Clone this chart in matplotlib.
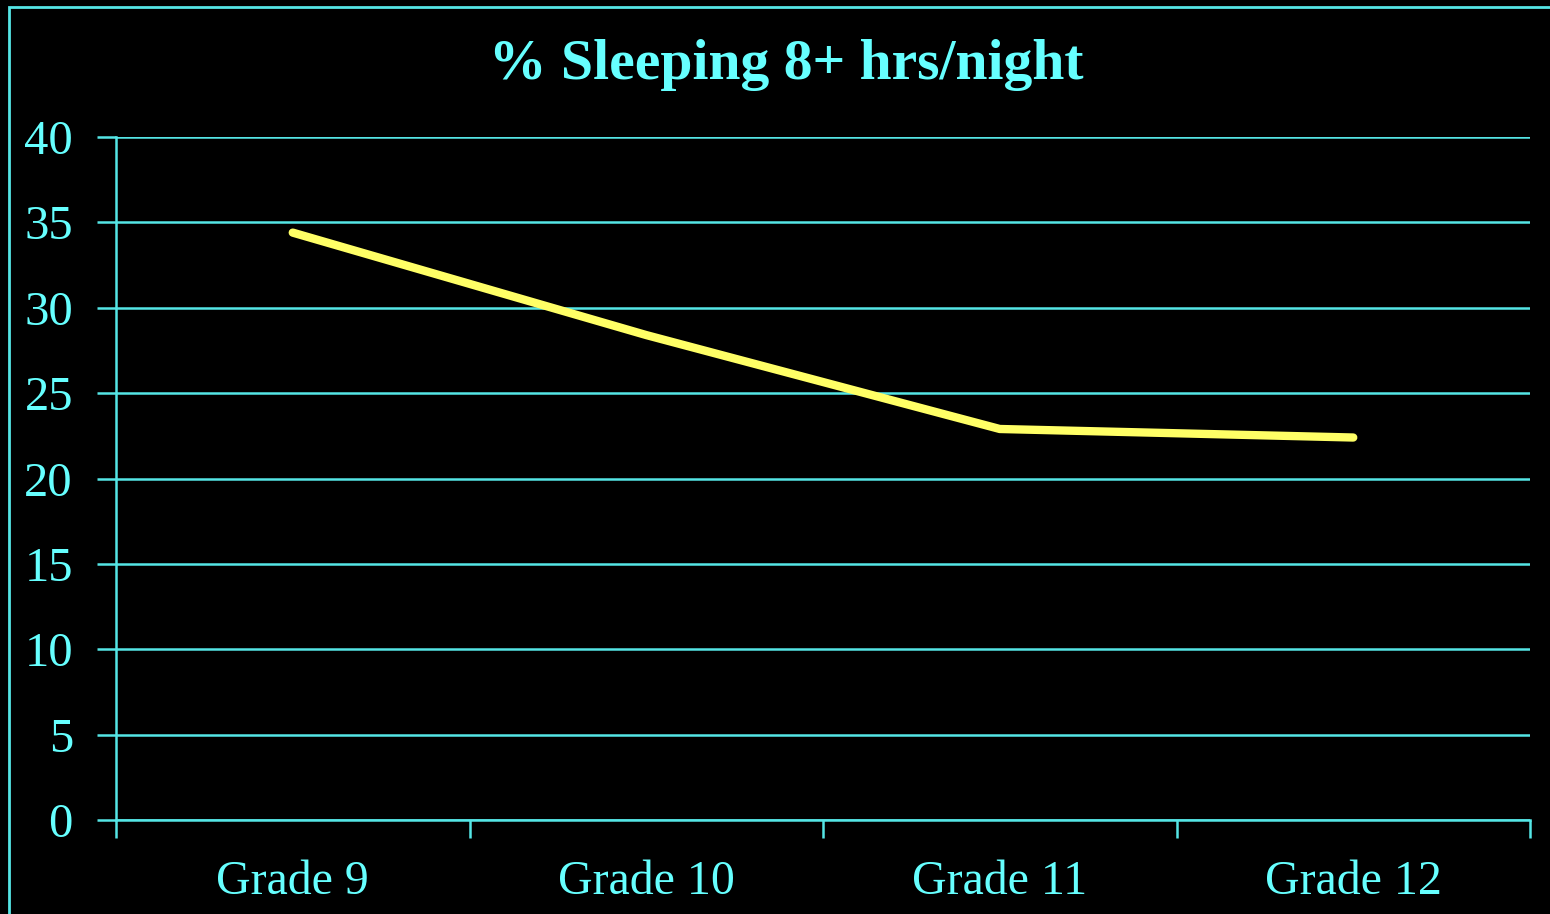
import matplotlib
matplotlib.use("Agg")
import matplotlib.pyplot as plt
from matplotlib.patches import Rectangle
import numpy as np

# survey values
grades = ["Grade 9", "Grade 10", "Grade 11", "Grade 12"]
pct_sleep = [34.4, 28.4, 22.9, 22.4]
yticks = [0, 5, 10, 15, 20, 25, 30, 35, 40]

cyan = "#66FFFF"
line_cyan = "#55E6E6"
yellow = "#FFFF66"

plt.rcParams["font.family"] = ["Liberation Serif", "DejaVu Serif"]

fig = plt.figure(figsize=(15.5, 9.14), dpi=100, facecolor="black")
ax = fig.add_axes([116/1550, 1 - 820/914, (1530-116)/1550, (820-137)/914])
ax.set_facecolor("black")

x = np.arange(len(grades))
ax.plot(x, pct_sleep, color=yellow, lw=6, solid_capstyle="round", zorder=3)

ax.set_xlim(-0.5, len(grades) - 0.5)
ax.set_ylim(0, 40)
ax.set_yticks(yticks)
ax.set_yticklabels([str(v) for v in yticks])
ax.yaxis.grid(True, color=line_cyan, lw=1.8)
ax.set_axisbelow(True)

# category labels at centres, tick marks at the boundaries
ax.set_xticks(x)
ax.set_xticklabels(grades)
ax.set_xticks(np.arange(-0.5, len(grades)), minor=True)
ax.tick_params(axis="x", which="major", length=0, pad=29, labelsize=34.5, labelcolor=cyan)
ax.tick_params(axis="x", which="minor", length=13, width=1.8, color=line_cyan, direction="out")
ax.tick_params(axis="y", length=14, width=1.8, color=line_cyan, labelsize=35,
               labelcolor=cyan, pad=17)

for s in ["top", "right"]:
    ax.spines[s].set_visible(False)
ax.spines["left"].set_color(line_cyan)
ax.spines["left"].set_linewidth(1.8)
ax.spines["bottom"].set_color(line_cyan)
ax.spines["bottom"].set_linewidth(1.8)

fig.text(786/1550, 1 - 65/914, "% Sleeping 8+ hrs/night", color=cyan,
         fontsize=41.5, fontweight="bold", ha="center", va="center")

# outer frame
fig.patches.append(Rectangle((9/1550, -0.05), 1.1, 1 - 7/914 + 0.05,
                             transform=fig.transFigure, fill=False,
                             edgecolor=line_cyan, lw=2))

fig.savefig("out.png", dpi=100, facecolor="black")
